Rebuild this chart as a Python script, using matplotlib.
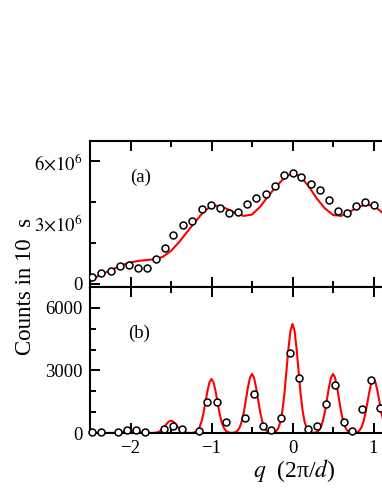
import matplotlib
matplotlib.use("Agg")
import matplotlib.pyplot as plt
import numpy as np

plt.rcParams['font.family'] = ['Liberation Serif', 'DejaVu Serif']
plt.rcParams['mathtext.fontset'] = 'stix'

# panel (a): measured points and fit, counts in units of 1e6
q_a = [-2.47, -2.36, -2.24, -2.13, -2.02, -1.91, -1.80, -1.68, -1.58, -1.47,
       -1.35, -1.24, -1.12, -1.01, -0.90, -0.78, -0.67, -0.56, -0.45, -0.33,
       -0.22, -0.11, 0.00, 0.11, 0.23, 0.34, 0.45, 0.56, 0.67, 0.78, 0.90, 1.01]
counts_a = [0.36, 0.56, 0.65, 0.89, 0.92, 0.80, 0.80, 1.20, 1.74, 2.42,
            2.89, 3.08, 3.67, 3.87, 3.74, 3.49, 3.53, 3.90, 4.23, 4.41,
            4.82, 5.33, 5.44, 5.23, 4.90, 4.62, 4.13, 3.59, 3.49, 3.82, 4.03, 3.89]

fit_q_a = [-2.5, -2.4, -2.3, -2.2, -2.1, -2.0, -1.9, -1.8, -1.7, -1.6,
           -1.5, -1.4, -1.3, -1.2, -1.1, -1.0, -0.9, -0.8, -0.7, -0.6,
           -0.5, -0.4, -0.3, -0.2, -0.1, 0.0, 0.1, 0.2, 0.3, 0.4,
           0.5, 0.6, 0.7, 0.8, 0.9, 1.0, 1.1, 1.2]
fit_a = [0.11, 0.39, 0.57, 0.75, 0.93, 1.05, 1.13, 1.17, 1.21, 1.33,
         1.62, 2.05, 2.55, 3.05, 3.52, 3.83, 3.82, 3.66, 3.46, 3.33,
         3.40, 3.78, 4.30, 4.78, 5.20, 5.44, 5.25, 4.78, 4.18, 3.70,
         3.38, 3.33, 3.52, 3.75, 3.87, 3.84, 3.52, 3.10]

# panel (b)
q_b = [-2.48, -2.37, -2.15, -2.04, -1.93, -1.82, -1.59, -1.48, -1.37,
       -1.16, -1.05, -0.93, -0.82, -0.59, -0.48, -0.37, -0.26, -0.14,
       -0.03, 0.08, 0.19, 0.30, 0.41, 0.52, 0.63, 0.74, 0.86, 0.97, 1.08]
counts_b = [60, 60, 60, 140, 140, 60, 190, 340, 180,
            100, 1470, 1470, 545, 720, 1890, 340, 160, 740,
            3820, 2660, 180, 350, 1410, 2320, 530, 100, 1150, 2540, 1190]

# fit curve sampled every 0.025 from -2.5 to 1.25
fit_q_b = np.round(np.arange(-2.5, 1.2501, 0.025), 3)
fit_b = [0, 0, 0, 0, 0, 0, 0, 0, 0, 0, 0,
         1, 2, 5, 12, 24, 43, 68, 93, 113, 120, 113, 93, 68, 43, 24, 12, 5, 2, 1,
         0,
         4, 10, 26, 60, 120, 212, 332, 457, 553, 590, 553, 457, 332, 212, 120, 60, 26, 10, 4,
         2,
         16, 44, 114, 262, 526, 932, 1458, 2007, 2429, 2590, 2429, 2007, 1458, 932, 526, 262, 114, 44, 16,
         9,
         17, 48, 125, 286, 574, 1019, 1593, 2193, 2654, 2830, 2654, 2193, 1593, 1019, 574, 286, 125, 48, 17,
         14,
         31, 89, 230, 528, 1062, 1883, 2944, 4053, 4906, 5230, 4906, 4053, 2944, 1883, 1062, 528, 230, 89, 31,
         14,
         17, 48, 125, 286, 574, 1019, 1593, 2193, 2654, 2830, 2654, 2193, 1593, 1019, 574, 286, 125, 48, 17,
         9,
         15, 44, 114, 261, 524, 929, 1453, 2000, 2420, 2580, 2420, 2000, 1453, 929, 524, 261, 114, 44, 15,
         4]

W, H = 382, 494
fig = plt.figure(figsize=(W / 100, H / 100), dpi=100)

left = 90 / W
width = 405 / W  # x range -2.5..2.5, right part falls outside the picture
ax_a = fig.add_axes([left, 1 - 287 / H, width, 146 / H])
ax_b = fig.add_axes([left, 1 - 433 / H, width, 146 / H])

for ax in (ax_a, ax_b):
    ax.set_xlim(-2.5, 2.5)
    ax.set_xticks([-2, -1, 0, 1, 2])
    ax.set_xticks([-2.5, -1.5, -0.5, 0.5, 1.5], minor=True)
    ax.tick_params(which='both', direction='in', top=True, right=True, width=1.4,
                   labelsize=13.5, pad=5)
    ax.tick_params(which='major', length=7)
    ax.tick_params(which='minor', length=4.5)
    for s in ax.spines.values():
        s.set_linewidth(1.5)

ax_a.plot(fit_q_a, np.array(fit_a) * 1e6, color='red', lw=1.5, zorder=2)
ax_a.plot(q_a, np.array(counts_a) * 1e6, 'o', ms=5, mfc='white', mec='black', mew=1.1,
          zorder=3)
ax_a.set_ylim(-0.15e6, 7.0e6)
ax_a.set_yticks([0, 3e6, 6e6])
ax_a.set_yticklabels(['0', r'$3{\times}10^6$', r'$6{\times}10^6$'])
ax_a.set_yticks([2e6, 4e6], minor=True)
ax_a.yaxis.get_major_ticks()[1].tick1line.set_visible(False)
ax_a.yaxis.get_major_ticks()[1].tick2line.set_visible(False)
ax_a.tick_params(axis='x', labelbottom=False)
ax_a.text(-1.87, 5.2e6, '(a)', fontsize=13.5, ha='center', va='center')

ax_b.plot(fit_q_b, fit_b, color='red', lw=1.5, zorder=2)
ax_b.plot(q_b, counts_b, 'o', ms=5, mfc='white', mec='black', mew=1.1, zorder=3,
          clip_on=False)
ax_b.set_ylim(0, 7000)
ax_b.set_yticks([0, 3000, 6000])
ax_b.set_yticks([1000, 2000, 4000, 5000], minor=True)
ax_b.set_xticklabels(['\u22122', '\u22121', '0', '1', '2'])
ax_b.tick_params(axis='x', pad=5)
ax_b.text(-1.90, 4800, '(b)', fontsize=13.5, ha='center', va='center')

fig.text(26 / W, 1 - 286 / H, 'Counts in 10  s', rotation=90, fontsize=16.5,
         ha='center', va='center')
fig.text(294 / W, 1 - 470 / H, r'$q$  (2π/$d$)', fontsize=17, ha='center', va='center')

fig.savefig('out.png', dpi=100)
